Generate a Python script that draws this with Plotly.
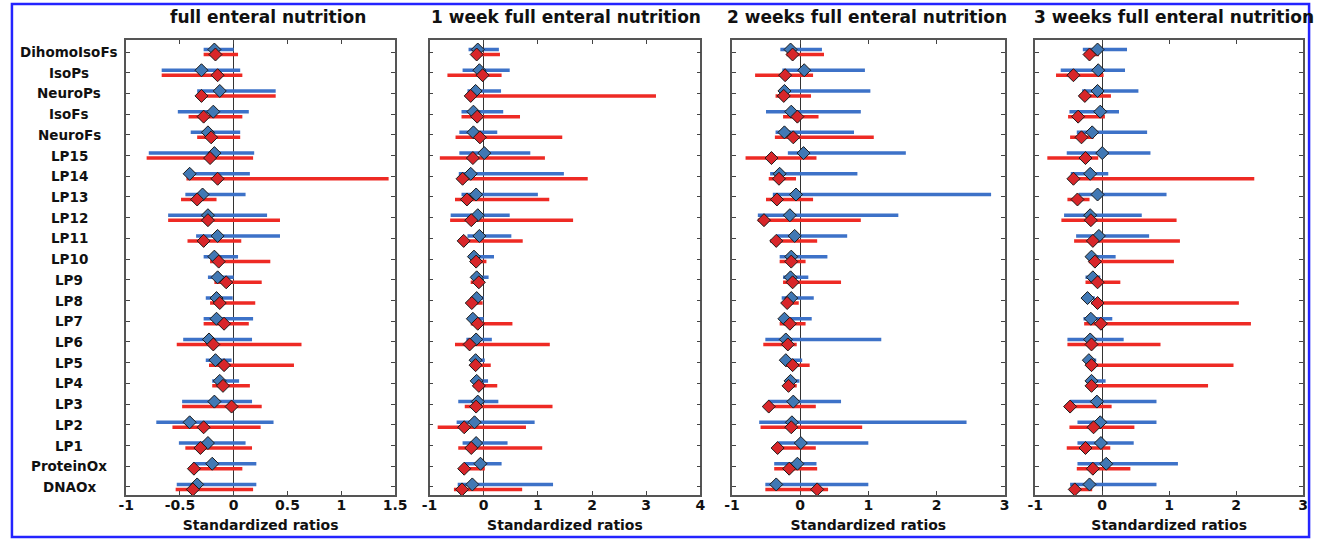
import plotly.graph_objects as go

categories = ["DihomoIsoFs", "IsoPs", "NeuroPs", "IsoFs", "NeuroFs", "LP15", "LP14", "LP13",
              "LP12", "LP11", "LP10", "LP9", "LP8", "LP7", "LP6", "LP5", "LP4", "LP3", "LP2",
              "LP1", "ProteinOx", "DNAOx"]

panel_titles = ["full enteral nutrition", "1 week full enteral nutrition",
                "2 weeks full enteral nutrition", "3 weeks full enteral nutrition"]
x_ranges = [[-1, 1.5], [-1, 4], [-1, 3], [-1, 3]]
x_ticks = [[-1, -0.5, 0, 0.5, 1, 1.5], [-1, 0, 1, 2, 3, 4], [-1, 0, 1, 2, 3], [-1, 0, 1, 2, 3]]
x_title = "Standardized ratios"

# Panel 1: full enteral nutrition
p1_blue_lo = [-0.28, -0.67, -0.34, -0.52, -0.40, -0.79, -0.45, -0.45, -0.61, -0.35, -0.28,
              -0.24, -0.26, -0.28, -0.47, -0.26, -0.20, -0.48, -0.72, -0.51, -0.38, -0.53]
p1_blue_pt = [-0.18, -0.30, -0.13, -0.19, -0.24, -0.18, -0.41, -0.29, -0.24, -0.15, -0.18,
              -0.15, -0.16, -0.16, -0.23, -0.17, -0.13, -0.18, -0.41, -0.24, -0.20, -0.34]
p1_blue_hi = [0.00, 0.06, 0.39, 0.14, 0.06, 0.19, 0.15, 0.11, 0.31, 0.43, 0.04,
              0.00, -0.01, 0.18, 0.17, -0.02, 0.05, 0.17, 0.37, 0.11, 0.21, 0.21]
p1_red_lo = [-0.28, -0.67, -0.34, -0.42, -0.34, -0.81, -0.44, -0.49, -0.61, -0.43, -0.22,
             -0.18, -0.22, -0.28, -0.53, -0.23, -0.20, -0.48, -0.57, -0.45, -0.38, -0.54]
p1_red_pt = [-0.17, -0.15, -0.30, -0.28, -0.21, -0.22, -0.15, -0.34, -0.24, -0.28, -0.14,
             -0.07, -0.13, -0.09, -0.19, -0.09, -0.10, -0.02, -0.28, -0.31, -0.37, -0.38]
p1_red_hi = [0.04, 0.08, 0.39, 0.08, 0.06, 0.18, 1.44, -0.16, 0.43, 0.07, 0.34,
             0.26, 0.20, 0.14, 0.63, 0.56, 0.15, 0.26, 0.25, 0.17, 0.08, 0.18]

# Panel 2: 1 week full enteral nutrition
p2_blue_lo = [-0.28, -0.39, -0.30, -0.41, -0.45, -0.45, -0.46, -0.41, -0.61, -0.30, -0.26,
              -0.23, -0.21, -0.26, -0.32, -0.21, -0.19, -0.47, -0.50, -0.39, -0.35, -0.48]
p2_blue_pt = [-0.11, -0.08, -0.15, -0.19, -0.19, 0.01, -0.24, -0.14, -0.11, -0.08, -0.18,
              -0.13, -0.13, -0.20, -0.14, -0.15, -0.13, -0.11, -0.17, -0.14, -0.06, -0.21]
p2_blue_hi = [0.28, 0.48, 0.32, 0.36, 0.25, 0.86, 1.48, 1.00, 0.48, 0.51, 0.19,
              0.09, 0.00, 0.00, 0.15, 0.02, 0.08, 0.27, 0.94, 0.44, 0.33, 1.28]
p2_red_lo = [-0.21, -0.67, -0.33, -0.41, -0.52, -0.81, -0.46, -0.53, -0.62, -0.44, -0.25,
             -0.24, -0.26, -0.24, -0.53, -0.23, -0.19, -0.35, -0.85, -0.47, -0.35, -0.55]
p2_red_pt = [-0.13, -0.02, -0.24, -0.12, -0.07, -0.20, -0.39, -0.31, -0.23, -0.37, -0.14,
             -0.09, -0.22, -0.11, -0.26, -0.15, -0.09, -0.14, -0.36, -0.23, -0.36, -0.40]
p2_red_hi = [0.30, 0.33, 3.18, 0.67, 1.45, 1.13, 1.92, 1.21, 1.65, 0.72, 0.05,
             -0.02, -0.02, 0.53, 1.22, 0.13, 0.25, 1.27, 0.78, 1.08, 0.02, 0.71]

# Panel 3: 2 weeks full enteral nutrition
p3_blue_lo = [-0.29, -0.26, -0.28, -0.50, -0.36, -0.18, -0.44, -0.40, -0.62, -0.35, -0.30,
              -0.25, -0.27, -0.27, -0.51, -0.24, -0.20, -0.47, -0.60, -0.32, -0.38, -0.51]
p3_blue_pt = [-0.14, 0.06, -0.23, -0.13, -0.23, 0.05, -0.30, -0.06, -0.15, -0.08, -0.13,
              -0.14, -0.13, -0.23, -0.21, -0.21, -0.14, -0.10, -0.12, 0.01, -0.04, -0.35]
p3_blue_hi = [0.32, 0.95, 1.03, 0.89, 0.79, 1.55, 0.84, 2.80, 1.44, 0.69, 0.40,
              0.12, 0.20, 0.17, 1.19, 0.03, -0.01, 0.60, 2.44, 1.00, 0.24, 1.00]
p3_red_lo = [-0.20, -0.66, -0.36, -0.25, -0.37, -0.80, -0.46, -0.50, -0.62, -0.44, -0.30,
             -0.25, -0.24, -0.30, -0.54, -0.22, -0.22, -0.50, -0.58, -0.38, -0.38, -0.51]
p3_red_pt = [-0.11, -0.22, -0.24, -0.04, -0.10, -0.42, -0.31, -0.34, -0.53, -0.35, -0.13,
             -0.11, -0.19, -0.15, -0.18, -0.11, -0.17, -0.46, -0.13, -0.33, -0.16, 0.25]
p3_red_hi = [0.35, 0.19, 0.16, 0.27, 1.08, 0.24, -0.06, 0.19, 0.89, 0.25, 0.08,
             0.60, -0.02, 0.08, -0.05, 0.14, -0.05, 0.23, 0.91, 0.23, 0.25, 0.41]

# Panel 4: 3 weeks full enteral nutrition
p4_blue_lo = [-0.29, -0.62, -0.30, -0.49, -0.38, -0.53, -0.47, -0.35, -0.57, -0.39, -0.21,
              -0.25, -0.26, -0.28, -0.52, -0.24, -0.20, -0.48, -0.37, -0.37, -0.37, -0.48]
p4_blue_pt = [-0.07, -0.06, -0.07, -0.03, -0.15, 0.00, -0.18, -0.07, -0.18, -0.05, -0.16,
              -0.14, -0.22, -0.17, -0.18, -0.20, -0.16, -0.08, -0.03, -0.02, 0.06, -0.19]
p4_blue_hi = [0.37, 0.34, 0.54, 0.25, 0.67, 0.72, 0.09, 0.96, 0.59, 0.70, 0.20,
              -0.03, -0.11, 0.15, 0.32, -0.09, 0.05, 0.81, 0.81, 0.47, 1.13, 0.81]
p4_red_lo = [-0.27, -0.69, -0.34, -0.51, -0.48, -0.82, -0.47, -0.52, -0.61, -0.42, -0.20,
             -0.25, -0.16, -0.27, -0.52, -0.20, -0.20, -0.48, -0.49, -0.53, -0.38, -0.46]
p4_red_pt = [-0.19, -0.43, -0.26, -0.36, -0.31, -0.25, -0.43, -0.37, -0.17, -0.14, -0.11,
             -0.07, -0.07, -0.02, -0.16, -0.16, -0.16, -0.48, -0.13, -0.25, -0.14, -0.41]
p4_red_hi = [-0.05, 0.02, 0.13, 0.04, -0.13, -0.06, 2.27, -0.19, 1.11, 1.16, 1.07,
             0.27, 2.04, 2.22, 0.87, 1.96, 1.58, 0.14, 0.48, 0.12, 0.42, -0.15]

panels = [
    (p1_blue_lo, p1_blue_pt, p1_blue_hi, p1_red_lo, p1_red_pt, p1_red_hi),
    (p2_blue_lo, p2_blue_pt, p2_blue_hi, p2_red_lo, p2_red_pt, p2_red_hi),
    (p3_blue_lo, p3_blue_pt, p3_blue_hi, p3_red_lo, p3_red_pt, p3_red_hi),
    (p4_blue_lo, p4_blue_pt, p4_blue_hi, p4_red_lo, p4_red_pt, p4_red_hi),
]

W, H = 1326, 539
x_domains_px = [(120, 393), (428, 703), (735, 1012), (1043, 1315)]
title_centers_px = [264, 567, 872, 1184]
y_top_px, y_bot_px = 40, 495
OFFSET = 0.12

BLUE_LINE = "#3d72c8"
RED_LINE = "#ee2a24"
BLUE_MK = "#4178b4"
RED_MK = "#d8262a"
FONT = "DejaVu Sans, Liberation Sans, Arial, sans-serif"

fig = go.Figure()
ypos = list(range(len(categories)))


def segs(lo, hi, ys):
    xs, yy = [], []
    for a, b, y in zip(lo, hi, ys):
        xs += [a, b, None]
        yy += [y, y, None]
    return xs, yy


for k, (blo, bpt, bhi, rlo, rpt, rhi) in enumerate(panels):
    xa = "x" if k == 0 else f"x{k+1}"
    ya = "y" if k == 0 else f"y{k+1}"
    yb = [y - OFFSET for y in ypos]
    yr = [y + OFFSET for y in ypos]
    bx, by = segs(blo, bhi, yb)
    rx, ry = segs(rlo, rhi, yr)
    fig.add_trace(go.Scatter(x=bx, y=by, mode="lines", line=dict(color=BLUE_LINE, width=3.5),
                             xaxis=xa, yaxis=ya, showlegend=False, hoverinfo="skip"))
    fig.add_trace(go.Scatter(x=rx, y=ry, mode="lines", line=dict(color=RED_LINE, width=3.5),
                             xaxis=xa, yaxis=ya, showlegend=False, hoverinfo="skip"))
    fig.add_trace(go.Scatter(x=bpt, y=yb, mode="markers",
                             marker=dict(symbol="diamond", size=10, color=BLUE_MK,
                                         line=dict(color="#1a1a1a", width=1)),
                             xaxis=xa, yaxis=ya, showlegend=False))
    fig.add_trace(go.Scatter(x=rpt, y=yr, mode="markers",
                             marker=dict(symbol="diamond", size=10, color=RED_MK,
                                         line=dict(color="#1a1a1a", width=1)),
                             xaxis=xa, yaxis=ya, showlegend=False))

    x0, x1 = x_domains_px[k]
    xdom = [x0 / W, x1 / W]
    ydom = [1 - y_bot_px / H, 1 - y_top_px / H]
    xkey = "xaxis" if k == 0 else f"xaxis{k+1}"
    ykey = "yaxis" if k == 0 else f"yaxis{k+1}"
    fig.update_layout({
        xkey: dict(domain=xdom, range=x_ranges[k], tickvals=x_ticks[k],
                   ticktext=[f"{v:g}" for v in x_ticks[k]],
                   anchor=ya, ticks="inside", ticklen=4, tickcolor="#444",
                   showline=True, linecolor="#555", linewidth=1.5, mirror="ticks",
                   showgrid=False, zeroline=True, zerolinecolor="#333", zerolinewidth=1,
                   ticklabelstandoff=-4,
                   tickfont=dict(family=FONT, size=14, color="#111", weight="bold"),
                   title=dict(text=x_title, standoff=9,
                              font=dict(family=FONT, size=14, color="#111", weight="bold"))),
        ykey: dict(domain=ydom, range=[len(categories) - 1 + 0.39, -0.58],
                   tickvals=ypos, showticklabels=False,
                   anchor=xa, ticks="inside", ticklen=4, tickcolor="#444",
                   showline=True, linecolor="#555", linewidth=1.5, mirror="ticks",
                   showgrid=False, zeroline=False),
    })
    fig.add_annotation(text=panel_titles[k], xref="paper", yref="paper",
                       x=title_centers_px[k] / W, y=1 - 17 / H, xanchor="center", yanchor="middle",
                       showarrow=False,
                       font=dict(family=FONT, size=17, color="#111", weight="bold"))

# Category labels, centered in the left margin as in the reference
for i, name in enumerate(categories):
    fig.add_annotation(text=name, xref="paper", yref="y", x=62 / W, y=i,
                       xanchor="center", yanchor="middle", showarrow=False,
                       font=dict(family=FONT, size=13.5, color="#111", weight="bold"))

fig.add_shape(type="rect", xref="paper", yref="paper", x0=4 / W, x1=1 - 5 / W,
              y0=2 / H, y1=1 - 4 / H, line=dict(color="#2424ff", width=2.5),
              fillcolor="rgba(0,0,0,0)")

fig.update_layout(width=W, height=H, margin=dict(l=0, r=0, t=0, b=0),
                  paper_bgcolor="white", plot_bgcolor="white",
                  font=dict(family=FONT))

post = (
    "document.documentElement.style.margin='0';"
    "document.documentElement.style.padding='0';"
    "document.documentElement.style.overflow='hidden';"
    "document.body.style.margin='0';"
    "document.body.style.padding='0';"
    "document.body.style.overflow='hidden';"
    "var gd=document.getElementById('{plot_id}');"
    "gd.style.position='absolute';gd.style.left='0px';gd.style.top='0px';"
)

fig.write_html("out.html", config={"displayModeBar": False}, post_script=post)
